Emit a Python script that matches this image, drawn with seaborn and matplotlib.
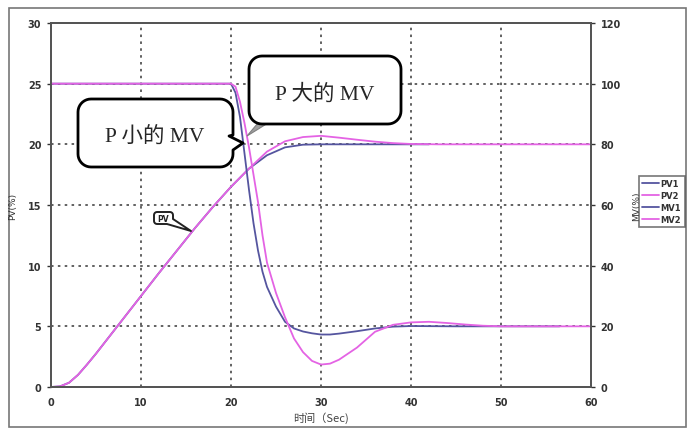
import numpy as np
import pandas as pd
import matplotlib
matplotlib.use("Agg")
import matplotlib.pyplot as plt
from matplotlib.patches import Polygon, Rectangle
import seaborn as sns

# ---------------- data ----------------
t_pv1 = [0, 1, 2, 3, 4, 5, 6, 7, 8, 10, 12, 14, 16, 18, 20, 22, 24, 26, 28, 30, 35, 42]
pv1 = [0, 0.05, 0.35, 1.0, 1.85, 2.75, 3.7, 4.65, 5.6, 7.5, 9.4, 11.25, 13.1, 14.85,
       16.5, 18.0, 19.1, 19.75, 19.97, 20.0, 20.0, 20.0]

t_pv2 = [0, 1, 2, 3, 4, 5, 6, 7, 8, 10, 12, 14, 16, 18, 20, 22, 24, 26, 28, 30, 32, 34,
         36, 38, 40, 43, 60]
pv2 = [0, 0.05, 0.35, 1.0, 1.85, 2.75, 3.7, 4.65, 5.6, 7.5, 9.4, 11.25, 13.1, 14.85,
       16.5, 18.0, 19.4, 20.25, 20.6, 20.7, 20.55, 20.38, 20.22, 20.1, 20.03, 20.0, 20.0]

t_mv1 = [0, 20, 20.5, 21, 21.5, 22, 22.5, 23, 23.5, 24, 25, 26, 27, 28, 29, 30, 31, 32,
         34, 36, 38, 40, 45, 56.5]
mv1 = [100, 100, 97, 89, 77, 65, 54, 45, 38, 33, 26.5, 21.5, 19.3, 18.3, 17.7, 17.3,
       17.3, 17.6, 18.4, 19.3, 19.9, 20.1, 20.0, 20.0]

t_mv2 = [0, 20, 20.5, 21, 21.5, 22, 22.5, 23, 23.5, 24, 25, 26, 27, 28, 29, 30, 31, 32,
         34, 36, 38, 40, 42, 44, 46, 48, 50, 60]
mv2 = [100, 100, 99, 94, 87, 79, 70, 61, 50, 41, 31, 23, 16, 11.5, 8.6, 7.4, 7.7, 9.0,
       13.0, 18.2, 20.5, 21.3, 21.5, 21.1, 20.6, 20.2, 20.0, 20.0]

x_ticks = [0, 10, 20, 30, 40, 50, 60]
pv_ticks = [0, 5, 10, 15, 20, 25, 30]
mv_ticks = [0, 20, 40, 60, 80, 100, 120]
series_names = ["PV1", "PV2", "MV1", "MV2"]

# ---------------- style ----------------
sns.set_theme(style="white")
plt.rcParams["font.family"] = ["DejaVu Sans", "Noto Sans CJK SC"]

C_BLUE = "#55559f"
C_PINK = "#e463e4"

W, H = 687, 431
fig = plt.figure(figsize=(W / 100, H / 100), dpi=100)
ax = fig.add_axes([51 / W, 1 - 388 / H, (591 - 51) / W, (388 - 24) / H])
ax2 = ax.twinx()

df_pv1 = pd.DataFrame({"t": t_pv1, "v": pv1})
df_pv2 = pd.DataFrame({"t": t_pv2, "v": pv2})
df_mv1 = pd.DataFrame({"t": t_mv1, "v": mv1})
df_mv2 = pd.DataFrame({"t": t_mv2, "v": mv2})

sns.lineplot(data=df_pv1, x="t", y="v", ax=ax, color=C_BLUE, lw=1.3, label=series_names[0], sort=False)
sns.lineplot(data=df_pv2, x="t", y="v", ax=ax, color=C_PINK, lw=1.3, label=series_names[1], sort=False)
sns.lineplot(data=df_mv1, x="t", y="v", ax=ax2, color=C_BLUE, lw=1.3, label=series_names[2], sort=False)
sns.lineplot(data=df_mv2, x="t", y="v", ax=ax2, color=C_PINK, lw=1.3, label=series_names[3], sort=False)

ax.set_xlim(0, 60)
ax.set_ylim(0, 30)
ax2.set_ylim(0, 120)
ax.set_xticks(x_ticks)
ax.set_yticks(pv_ticks)
ax2.set_yticks(mv_ticks)

for a in (ax, ax2):
    for s in a.spines.values():
        s.set_color("#555555")
        s.set_linewidth(1.4)
    a.tick_params(labelsize=7, colors="#333333", length=3, width=1, direction="out", pad=4)
    for lab in a.get_xticklabels() + a.get_yticklabels():
        lab.set_fontweight("semibold")

ax.grid(True, color="#555555", linestyle=(0, (1.4, 2.4)), linewidth=1.3)
ax2.grid(False)
ax.set_axisbelow(True)

ax.set_xlabel("时间（Sec)", fontsize=8, color="#444444", family=["Noto Sans CJK SC", "DejaVu Sans"], labelpad=3)
ax.set_ylabel("PV(%)", fontsize=6.5, color="#333333", labelpad=8)
ax2.set_ylabel("MV(%)", fontsize=6.5, color="#333333", labelpad=8)

# legend
h1, l1 = ax.get_legend_handles_labels()
h2, l2 = ax2.get_legend_handles_labels()
ax.get_legend().remove()
ax2.get_legend().remove()
leg = fig.legend(h1 + h2, l1 + l2, loc="upper left", bbox_to_anchor=(639 / W, 1 - 177 / H),
                 fontsize=6, frameon=True, fancybox=False, handlelength=2.0,
                 handletextpad=0.2, labelspacing=0.35, borderpad=0.4, borderaxespad=0)
leg.get_frame().set_edgecolor("#555555")
leg.get_frame().set_linewidth(1.2)
for t in leg.get_texts():
    t.set_color("#333333")
    t.set_fontweight("bold")

# ---------------- annotations (pixel helpers) ----------------
def fp(x, y):
    return (x / W, 1 - y / H)

def arc(cx, cy, r, a0, a1, n=10):
    a = np.radians(np.linspace(a0, a1, n))
    return [(cx + r * np.cos(v), cy - r * np.sin(v)) for v in a]

def callout(x0, y0, x1, y1, r, right_notch=(), bottom_notch=()):
    pts = []
    pts += arc(x0 + r, y0 + r, r, 180, 90)
    pts += arc(x1 - r, y0 + r, r, 90, 0)
    pts += list(right_notch)
    pts += arc(x1 - r, y1 - r, r, 0, -90)
    pts += list(bottom_notch)
    pts += arc(x0 + r, y1 - r, r, -90, -180)
    return [fp(x, y) for x, y in pts]

serif = ["Liberation Serif", "Noto Sans CJK SC"]

# gray pointer of the "P 大的 MV" callout
fig.add_artist(Polygon([fp(258, 124), fp(268, 124), fp(247, 137)], closed=True,
                       transform=fig.transFigure, facecolor="#a0a0a0",
                       edgecolor="#808080", lw=0.8, zorder=4))
# callout "P 大的 MV"
fig.add_artist(Polygon(callout(249, 57, 401, 125, 13), closed=True,
                       transform=fig.transFigure, facecolor="white",
                       edgecolor="black", lw=2, joinstyle="round", zorder=5))
fig.text(*fp(325, 95), "P 大的 MV", family=serif, fontsize=15.5,
         ha="center", va="center", zorder=6)

# callout "P 小的 MV"
fig.add_artist(Polygon(callout(78, 100, 233, 168, 13,
                               right_notch=[(233, 136), (229, 137), (243, 144), (233, 151)]),
                       closed=True, transform=fig.transFigure, facecolor="white",
                       edgecolor="black", lw=2, joinstyle="round", zorder=5))
fig.text(*fp(155, 137), "P 小的 MV", family=serif, fontsize=15.5,
         ha="center", va="center", zorder=6)

# small "PV" label
pv_pts = []
pv_pts += arc(157, 216, 3, 180, 90, 5)
pv_pts += arc(170, 216, 3, 90, 0, 5)
pv_pts += [(173, 220), (191, 232), (167, 225)]
pv_pts += arc(157, 222, 3, -90, -180, 5)
fig.add_artist(Polygon([fp(x, y) for x, y in pv_pts], closed=True,
                       transform=fig.transFigure, facecolor="white",
                       edgecolor="#222222", lw=1.4, joinstyle="round", zorder=5))
fig.text(*fp(163.5, 219.5), "PV", fontsize=5.5, fontweight="bold", color="#222222",
         ha="center", va="center", zorder=6)

# outer frame
fig.add_artist(Rectangle(fp(9, 428), (686 - 9) / W, (428 - 9) / H,
                         transform=fig.transFigure, fill=False,
                         edgecolor="#777777", lw=1.2, zorder=0))

fig.savefig("out.png", dpi=100)
